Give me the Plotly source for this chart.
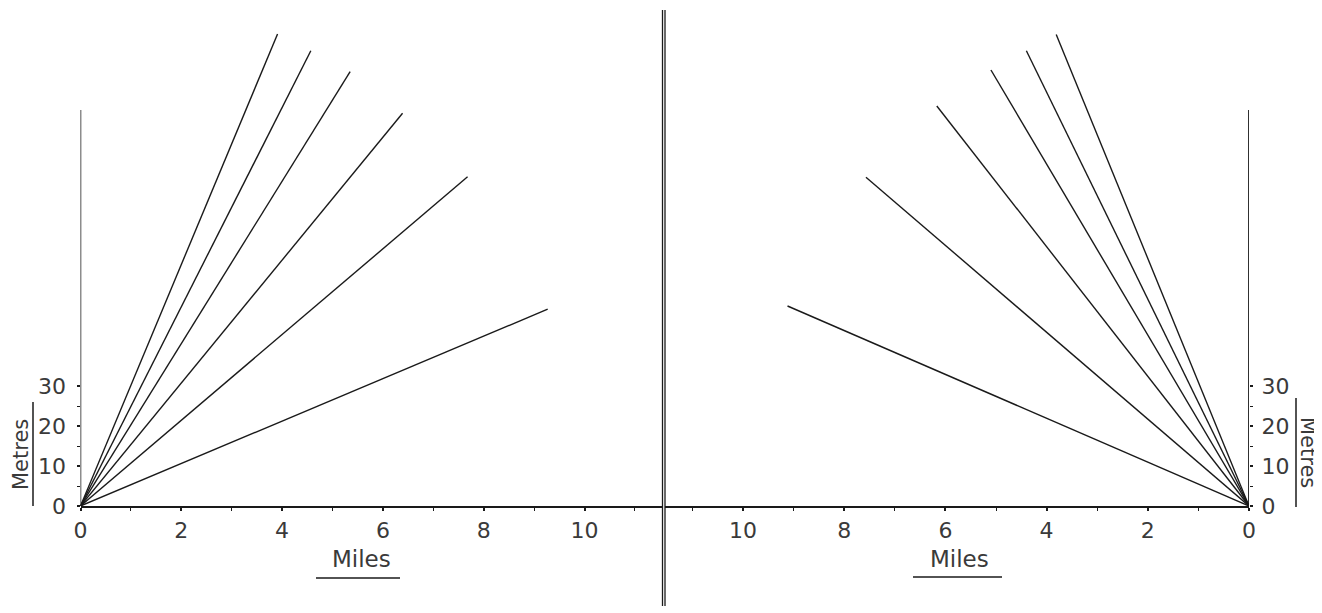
import plotly.graph_objects as go

# ---- data ----
# Left panel: end points of the six radial lines (miles, metres), all from origin
left_end_miles = [9.27, 7.68, 6.39, 5.35, 4.57, 3.91]
left_end_metres = [49.2, 82.3, 98.2, 108.6, 113.8, 118.0]
# Right panel (mirrored scale)
right_end_miles = [9.12, 7.57, 6.17, 5.10, 4.40, 3.81]
right_end_metres = [50.0, 82.2, 100.0, 109.0, 113.8, 117.9]

x_tick_vals = [0, 2, 4, 6, 8, 10]
x_tick_text = ["0", "2", "4", "6", "8", "10"]
x_minor_vals = [1, 3, 5, 7, 9, 11]
y_tick_vals = [0, 10, 20, 30]
y_tick_text = ["0", "10", "20", "30"]
y_minor_vals = [5, 15, 25]
y_axis_top = 99
x_title = "Miles"
y_title = "Metres"

OFF = 8                      # page body margin
W, H = 1322 - OFF, 613 - OFF
FONT = "DejaVu Sans"
INK = "#1a1a1a"
TXT = "#3a3a3a"

def px(x):
    return (x - OFF) / W

def py(y):
    return 1 - (y - OFF) / H

fig = go.Figure()

for xe, ye in zip(left_end_miles, left_end_metres):
    fig.add_trace(go.Scatter(x=[0, xe], y=[0, ye], mode="lines",
                             line=dict(color=INK, width=1.4),
                             xaxis="x", yaxis="y", showlegend=False, hoverinfo="skip"))
for xe, ye in zip(right_end_miles, right_end_metres):
    fig.add_trace(go.Scatter(x=[0, xe], y=[0, ye], mode="lines",
                             line=dict(color=INK, width=1.4),
                             xaxis="x2", yaxis="y2", showlegend=False, hoverinfo="skip"))

y_dom = [py(506), py(8)]
y_rng = [0, (506 - 8) / 4.0]

tickfont = dict(family=FONT, size=22, color=TXT)

xcommon = dict(showgrid=False, zeroline=False, showline=True, linecolor=INK, linewidth=1.5,
               automargin=False,
               ticks="outside", ticklen=3, tickwidth=1.5, tickcolor=INK,
               tickmode="array", tickvals=x_tick_vals, ticktext=x_tick_text,
               tickfont=tickfont, ticklabelstandoff=1,
               minor=dict(tickmode="array", tickvals=x_minor_vals, ticks="outside",
                          ticklen=3, tickwidth=1, tickcolor=INK))

ycommon = dict(showgrid=False, zeroline=False, showline=False, range=y_rng, domain=y_dom,
               automargin=False,
               ticks="outside", ticklen=3, tickwidth=1.5, tickcolor=INK,
               tickmode="array", tickvals=y_tick_vals, ticktext=y_tick_text,
               tickfont=tickfont,
               minor=dict(tickmode="array", tickvals=y_minor_vals, ticks="outside",
                          ticklen=3, tickwidth=1, tickcolor=INK))

fig.update_layout(
    template="none",
    width=W, height=H,
    margin=dict(l=0, r=0, t=0, b=0, pad=0, autoexpand=False),
    paper_bgcolor="white", plot_bgcolor="white",
    xaxis=dict(domain=[px(80.5), px(662)], range=[0, (662 - 80.5) / 50.4],
               anchor="y", **xcommon),
    xaxis2=dict(domain=[px(665), px(1249)], range=[(1249 - 665) / 50.6, 0],
                anchor="y2", **xcommon),
    yaxis=dict(anchor="x", side="left", ticklabelstandoff=6, **ycommon),
    yaxis2=dict(anchor="x2", side="right", ticklabelstandoff=4, **ycommon),
)

# y-axis lines (only up to ~100 m)
fig.add_shape(type="line", xref="x", yref="y", x0=0, x1=0, y0=0, y1=y_axis_top,
              line=dict(color=INK, width=1.5))
fig.add_shape(type="line", xref="x2", yref="y2", x0=0, x1=0, y0=0, y1=y_axis_top,
              line=dict(color=INK, width=1.8))

# central double divider
for xc in (662.5, 665):
    fig.add_shape(type="line", xref="paper", yref="paper", x0=px(xc), x1=px(xc),
                  y0=py(10), y1=py(606), line=dict(color=INK, width=1.3))

tfont = dict(family=FONT, size=23, color=TXT)
vfont = dict(family=FONT, size=21, color=TXT)

# axis titles with underlines
fig.add_annotation(text=x_title, xref="paper", yref="paper", x=px(361), y=py(559),
                   showarrow=False, font=tfont, xanchor="center", yanchor="middle")
fig.add_shape(type="line", xref="paper", yref="paper", x0=px(316), x1=px(400),
              y0=py(578), y1=py(578), line=dict(color=INK, width=1.5))
fig.add_annotation(text=x_title, xref="paper", yref="paper", x=px(959), y=py(559),
                   showarrow=False, font=tfont, xanchor="center", yanchor="middle")
fig.add_shape(type="line", xref="paper", yref="paper", x0=px(913), x1=px(1002),
              y0=py(577), y1=py(577), line=dict(color=INK, width=1.5))

fig.add_annotation(text=y_title, xref="paper", yref="paper", x=px(21), y=py(455),
                   showarrow=False, font=vfont, textangle=-90,
                   xanchor="center", yanchor="middle")
fig.add_shape(type="line", xref="paper", yref="paper", x0=px(33), x1=px(33),
              y0=py(402), y1=py(506), line=dict(color=INK, width=1.5))
fig.add_annotation(text=y_title, xref="paper", yref="paper", x=px(1308), y=py(452),
                   showarrow=False, font=vfont,
                   textangle=90, xanchor="center", yanchor="middle")
fig.add_shape(type="line", xref="paper", yref="paper", x0=px(1296), x1=px(1296),
              y0=py(398), y1=py(507), line=dict(color=INK, width=1.5))

fig.write_html("out.html")
